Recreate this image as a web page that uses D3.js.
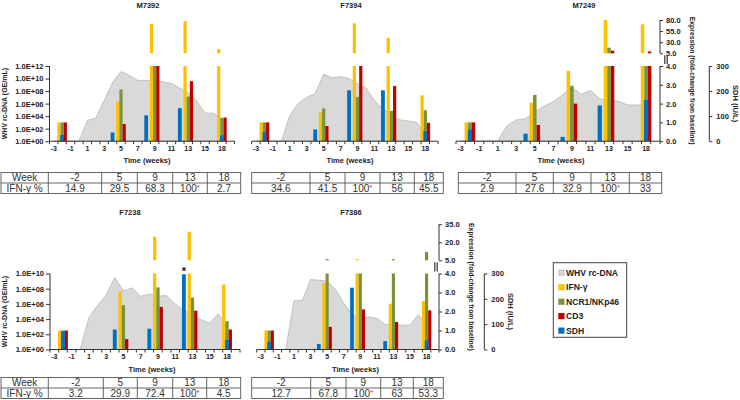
<!DOCTYPE html>
<html><head><meta charset="utf-8">
<script src="https://cdn.jsdelivr.net/npm/d3@7"></script>
<style>body{margin:0;background:#fff}svg{display:block}text{font-family:"Liberation Sans",Arial,sans-serif}</style>
</head><body><svg id="c" width="740" height="400"></svg>
<script>
// ---------- DATA ----------
const weeks = ["-3","-2","-1","0","1","2","3","4","5","6","7","8","9","10","11","12","13","14","15","16","18","20"];
const weekTicks = ["-3","-1","1","3","5","7","9","11","13","15","18"];
const dnaWeeks = ["-3","-2","-1","0","1","2","3","4","5","6","7","8","9","10","11","12","13","14","15","16","18"];
const geneWeeks = ["-2","5","9","13","18"];
const sdhWeeks = ["-2","4","8","12","18"];
const tableWeeks = ["-2","5","9","13","18"];
const animals = ["M7392","F7394","M7249","F7238","F7386"];
const seriesNames = ["WHV rc-DNA","IFN-γ","NCR1/NKp46","CD3","SDH"];
const logTicksTop = [1,1e2,1e4,1e6,1e8,1e10,1e12];
const logTicksBottom = [1,1e2,1e4,1e6,1e8,1e10];
const exprTicksLow = [0,1,2,3,4];
const exprTicksUpTop = [5,30,55,80];
const exprTicksUpBottom = [5,20,35];
const sdhTicks = [0,100,200,300];

// WHV rc-DNA (GE/mL) per week
const dna_M7392 = [1,1,1,1,2e3,5e3,3e6,2.5e9,1.3e11,3e10,5e9,5e9,5e9,3e9,1.6e9,3e8,6e7,3e6,3e4,3e4,4e3];
const dna_F7394 = [1,1,1,1,1.3e4,1e6,1e7,4e7,5e10,1.3e10,2e10,1e10,1.6e9,3e8,3e6,1.6e5,1.3e4,2.5e3,1.6e3,1e3,10];
const dna_M7249 = [1,1,1,1,1,3e2,2.5e3,4e3,5e4,4e5,2e6,2.5e7,4e8,3e7,1.3e8,6e6,3e6,2.5e6,6e5,6e5,8e5];
const dna_F7238 = [1,1,1,1,1.6e4,6e5,1.6e7,3e9,5e7,1.3e8,1e7,2e7,1e7,1.3e7,1e6,1.3e5,5e4,8e3,3e3,5e4,1e3];
const dna_F7386 = [1,1,1,1,2.5e6,3e6,1.6e9,1.3e9,1e9,8e7,1.3e6,4e4,1e4,2e4,1.3e4,2e3,1.6e3,1.6e3,1.6e3,4e4,1.6e3];

// expression (fold-change from baseline) at geneWeeks
const ifn_M7392 = [1.0,2.09,71,77.7,14.7];
const ncr_M7392 = [1.0,2.75,4.5,2.37,1.23];
const cd3_M7392 = [1.0,0.91,4.5,3.19,1.26];
const ifn_F7394 = [1.0,1.53,72.5,40,2.44];
const ncr_F7394 = [1.0,1.74,2.35,1.61,1.65];
const cd3_F7394 = [1.0,0.81,4.1,2.93,0.98];
const ifn_M7249 = [1.0,2.05,3.74,80,70.3];
const ncr_M7249 = [1.0,2.46,2.95,17.6,4.5];
const cd3_M7249 = [1.0,0.86,2.0,10.9,9];
const ifn_F7238 = [1.0,3.05,24.7,28.8,3.42];
const ncr_F7238 = [1.0,2.33,3.27,2.73,1.49];
const cd3_F7238 = [1.0,0.55,2.24,2.04,1.05];
const ifn_F7386 = [1.0,3.5,6,2.41,2.55];
const ncr_F7386 = [1.0,6,4.5,6,11.9];
const cd3_F7386 = [1.0,1.19,2.11,1.45,2.06];

// SDH (IU/L) at sdhWeeks
const sdh_M7392 = [25,35,103,132,23];
const sdh_F7394 = [35,47,203,203,40];
const sdh_M7249 = [46,30,17,143,165];
const sdh_F7238 = [72,79,82,297,38];
const sdh_F7386 = [30,22,244,33,36];

// IFN-γ % table
const pct_M7392 = ["14.9","29.5","68.3","100*","2.7"];
const pct_F7394 = ["34.6","41.5","100*","56","45.5"];
const pct_M7249 = ["2.9","27.6","32.9","100*","33"];
const pct_F7238 = ["3.2","29.9","72.4","100*","4.5"];
const pct_F7386 = ["12.7","67.8","100*","63","53.3"];

// ---------- DRAW ----------
const svg = d3.select("#c");
const COL = {ifn:"#FFC000", ncr:"#77933C", cd3:"#C00000", sdh:"#0070C0", dna:"#D9D9D9", dnaS:"#A6A6A6", axis:"#333"};
const FONT = "Liberation Sans, Arial, sans-serif";

function styleAxis(sel, size){
  sel.selectAll("path,line").attr("stroke", COL.axis).attr("stroke-width",1);
  sel.selectAll("text").attr("font-size", size||7.5).attr("font-weight","bold").attr("fill","#222").attr("font-family",FONT);
}

function panel(p){
  const g = svg.append("g");
  const x = d3.scaleBand().domain(weeks).range([p.x0,p.x1]);
  const bw = x.bandwidth();
  const cx = w => x(w) + bw/2;
  const yLog = d3.scaleLog().domain([1,p.logMax]).range([p.yBase,p.yTop]);
  const yLow = d3.scaleLinear().domain([0,4]).range([p.yBase,p.yTop]);
  const yUp = d3.scaleLinear().domain([5,p.upMax]).range([p.y5,p.yUpTop]);
  const ySdh = d3.scaleLinear().domain([0,300]).range([p.yBase,p.yTop]);

  // area
  const area = d3.area().x((d,i)=>cx(dnaWeeks[i])).y0(p.yBase).y1(d=>yLog(d));
  g.append("path").datum(p.dna).attr("d",area).attr("fill",COL.dna).attr("stroke",COL.dnaS).attr("stroke-width",0.6);

  // expression bars
  const gw = bw*0.38;
  [[p.ifn,COL.ifn],[p.ncr,COL.ncr],[p.cd3,COL.cd3]].forEach(([vals,col],k)=>{
    vals.forEach((v,i)=>{
      const xx = cx(geneWeeks[i]) + (k-1.5)*gw;
      const lv = Math.min(v,4);
      g.append("rect").attr("x",xx).attr("width",gw).attr("y",yLow(lv)).attr("height",yLow(0)-yLow(lv)).attr("fill",col);
      if(v>5){
        g.append("rect").attr("x",xx).attr("width",gw).attr("y",yUp(v)).attr("height",yUp(5)-yUp(v)).attr("fill",col);
      }
    });
  });
  // SDH bars
  const sw = bw*0.45;
  p.sdh.forEach((v,i)=>{
    g.append("rect").attr("x",cx(sdhWeeks[i])-sw/2).attr("width",sw).attr("y",ySdh(v)).attr("height",ySdh(0)-ySdh(v)).attr("fill",COL.sdh);
  });

  // x axis
  const xa = g.append("g").attr("transform",`translate(0,${p.yBase})`)
    .call(d3.axisBottom(x).tickValues(weekTicks).tickSize(0).tickPadding(5));
  styleAxis(xa,7);
  xa.select(".domain").attr("d",`M${p.x0},0H${p.x1}`);
  weeks.concat([null]).forEach((w,i)=>{
    const xx = w===null ? p.x1 : x(w);
    g.append("line").attr("x1",xx).attr("x2",xx).attr("y1",p.yBase).attr("y2",p.yBase+3).attr("stroke",COL.axis);
  });
  g.append("text").attr("x",p.timeX).attr("y",p.yBase+22).attr("text-anchor","middle")
    .attr("font-size",7.5).attr("font-weight","bold").attr("fill","#222").text("Time (weeks)");

  // title
  g.append("text").attr("x",p.titleX).attr("y",p.titleY).attr("text-anchor","middle")
    .attr("font-size",7.5).attr("font-weight","bold").attr("fill","#222").text(p.name);

  // left log axis
  if(p.leftAxis){
    const la = g.append("g").attr("transform",`translate(${p.x0},0)`)
      .call(d3.axisLeft(yLog).tickValues(p.logTicks).tickSize(4).tickPadding(2)
        .tickFormat(d=>"1.0E+"+String(Math.round(Math.log10(d))).padStart(2,"0")));
    styleAxis(la,7.5);
    la.select(".domain").attr("d",`M0,${p.yTop}V${p.yBase}`);
    g.append("text").attr("transform",`translate(${p.x0-43},${(p.yTop+p.yBase)/2}) rotate(-90)`)
      .attr("text-anchor","middle").attr("font-size",7).attr("font-weight","bold").attr("fill","#222").text("WHV rc-DNA (GE/mL)");
  }
  // right axes
  if(p.rightAxis){
    const fmt = d3.format(".1f");
    const r1 = g.append("g").attr("transform",`translate(${p.ex},0)`)
      .call(d3.axisRight(yLow).tickValues(exprTicksLow).tickSize(3).tickPadding(3).tickFormat(fmt));
    styleAxis(r1,7.5);
    r1.select(".domain").attr("d",`M0,${p.yTop}V${p.yBase}`);
    const r2 = g.append("g").attr("transform",`translate(${p.ex},0)`)
      .call(d3.axisRight(yUp).tickValues(p.upTicks).tickSize(3).tickPadding(3).tickFormat(fmt));
    styleAxis(r2,7.5);
    r2.select(".domain").attr("d",`M0,${p.yUpTop}V${p.y5}`);
    // break marks
    p.breakDx.forEach(dx=>{
      g.append("line").attr("x1",p.ex+dx).attr("x2",p.ex+dx).attr("y1",p.y5+2).attr("y2",p.yTop-2)
        .attr("stroke",COL.axis).attr("stroke-width",0.8);
    });
    g.append("text").attr("transform",`translate(${p.ex+30},${(p.yUpTop+p.yBase)/2}) rotate(90)`)
      .attr("text-anchor","middle").attr("font-size",6.8).attr("font-weight","bold").attr("fill","#222")
      .text("Expression (fold-change from baseline)");
    const r3 = g.append("g").attr("transform",`translate(${p.sx},0)`)
      .call(d3.axisRight(ySdh).tickValues(sdhTicks).tickSize(3).tickPadding(4).tickFormat(d3.format("d")));
    styleAxis(r3,7.5);
    r3.select(".domain").attr("d",`M0,${p.yTop}V${p.yBase}`);
    g.append("text").attr("transform",`translate(${p.sx+24},${(p.yTop+p.yBase)/2}) rotate(90)`)
      .attr("text-anchor","middle").attr("font-size",7.5).attr("font-weight","bold").attr("fill","#222")
      .text("SDH (IU/L)");
  }
  if(p.star){
    g.append("text").attr("x",cx(p.star)).attr("y",ySdh(p.sdh[sdhWeeks.indexOf(p.star)])+1).attr("text-anchor","middle")
      .attr("font-size",11).attr("font-weight","bold").attr("fill","#111").text("*");
  }

  // table
  const t = svg.append("g");
  const cols = p.tcols, ys = p.trows;
  const rows = [p.header ? ["Week"].concat(tableWeeks) : tableWeeks.slice(),
                p.header ? ["IFN-γ %"].concat(p.pct) : p.pct.slice()];
  t.append("rect").attr("x",cols[0]).attr("y",ys[0]).attr("width",cols[cols.length-1]-cols[0]).attr("height",ys[2]-ys[0])
    .attr("fill","none").attr("stroke","#555").attr("stroke-width",0.9);
  t.append("line").attr("x1",cols[0]).attr("x2",cols[cols.length-1]).attr("y1",ys[1]).attr("y2",ys[1]).attr("stroke","#555").attr("stroke-width",0.9);
  cols.slice(1,-1).forEach(c=>t.append("line").attr("x1",c).attr("x2",c).attr("y1",ys[0]).attr("y2",ys[2]).attr("stroke","#555").attr("stroke-width",0.9));
  rows.forEach((r,ri)=>{
    r.forEach((s,ci)=>{
      const tx = t.append("text").attr("x",(cols[ci]+cols[ci+1])/2).attr("y",(ys[ri]+ys[ri+1])/2+3.6)
        .attr("text-anchor","middle").attr("font-size",10).attr("fill","#333");
      if(s.endsWith("*")){
        tx.append("tspan").text(s.slice(0,-1));
        tx.append("tspan").attr("fill","#E03030").attr("font-size",8).attr("dy",-2).text("*");
      } else tx.text(s);
    });
  });
}

const TOP = {yTop:66, yBase:141.2, y5:53.3, yUpTop:20, upMax:80, upTicks:exprTicksUpTop, logMax:1e12, logTicks:logTicksTop, titleY:7.5, trows:[172.5,183,193.5]};
const BOT = {yTop:273.5, yBase:349.5, y5:260.3, yUpTop:224.3, upMax:35, upTicks:exprTicksUpBottom, logMax:1e10, logTicks:logTicksBottom, titleY:215, trows:[377.5,388,398.5]};

panel(Object.assign({}, TOP, {name:animals[0], dna:dna_M7392, ifn:ifn_M7392, ncr:ncr_M7392, cd3:cd3_M7392, sdh:sdh_M7392, pct:pct_M7392,
  x0:49.5, x1:234.5, titleX:148, timeX:147, leftAxis:true, header:true, tcols:[1,48.3,101.7,137.3,172.7,207.3,240.7]}));
panel(Object.assign({}, TOP, {name:animals[1], dna:dna_F7394, ifn:ifn_F7394, ncr:ncr_F7394, cd3:cd3_F7394, sdh:sdh_F7394, pct:pct_F7394,
  x0:251.7, x1:438, titleX:351, timeX:350, tcols:[251.7,310,345,380,414.3,443.3]}));
panel(Object.assign({}, TOP, {name:animals[2], dna:dna_M7249, ifn:ifn_M7249, ncr:ncr_M7249, cd3:cd3_M7249, sdh:sdh_M7249, pct:pct_M7249,
  x0:456, x1:660, titleX:584, timeX:561, rightAxis:true, ex:660, sx:709.3, breakDx:[4.5,6,7.5], tcols:[458.3,516,553.3,591,629.3,661.7]}));
panel(Object.assign({}, BOT, {name:animals[3], dna:dna_F7238, ifn:ifn_F7238, ncr:ncr_F7238, cd3:cd3_F7238, sdh:sdh_F7238, pct:pct_F7238,
  x0:50, x1:240, titleX:130, timeX:152, leftAxis:true, header:true, star:"12", tcols:[1,48.3,103.3,137.3,172.7,206.7,240.7]}));
panel(Object.assign({}, BOT, {name:animals[4], dna:dna_F7386, ifn:ifn_F7386, ncr:ncr_F7386, cd3:cd3_F7386, sdh:sdh_F7386, pct:pct_F7386,
  x0:256.7, x1:439, titleX:351, timeX:355.5, rightAxis:true, ex:439, sx:484.3, breakDx:[-4.5,-3,-1.5], tcols:[251.7,310.7,346,380.7,413.3,443.3]}));

// legend
const lg = svg.append("g");
lg.append("rect").attr("x",553.3).attr("y",262.7).attr("width",73.4).attr("height",74.6).attr("fill","#fff").attr("stroke","#444").attr("stroke-width",1);
const legCols = [COL.dna,COL.ifn,COL.ncr,COL.cd3,COL.sdh];
const legY = d3.scalePoint().domain(seriesNames).range([272.7,330.5]);
seriesNames.forEach((n,i)=>{
  const y = legY(n);
  if(i===0) lg.append("rect").attr("x",559).attr("y",y-2.5).attr("width",5).attr("height",5).attr("fill",COL.dna).attr("stroke","#A6A6A6").attr("stroke-width",0.7);
  else lg.append("rect").attr("x",558.3).attr("y",y-3).attr("width",6.2).attr("height",6.2).attr("fill",legCols[i]);
  lg.append("text").attr("x",566).attr("y",y+3.2).attr("font-size",8.6).attr("font-weight","bold").attr("fill","#222").text(n);
});
</script></body></html>
